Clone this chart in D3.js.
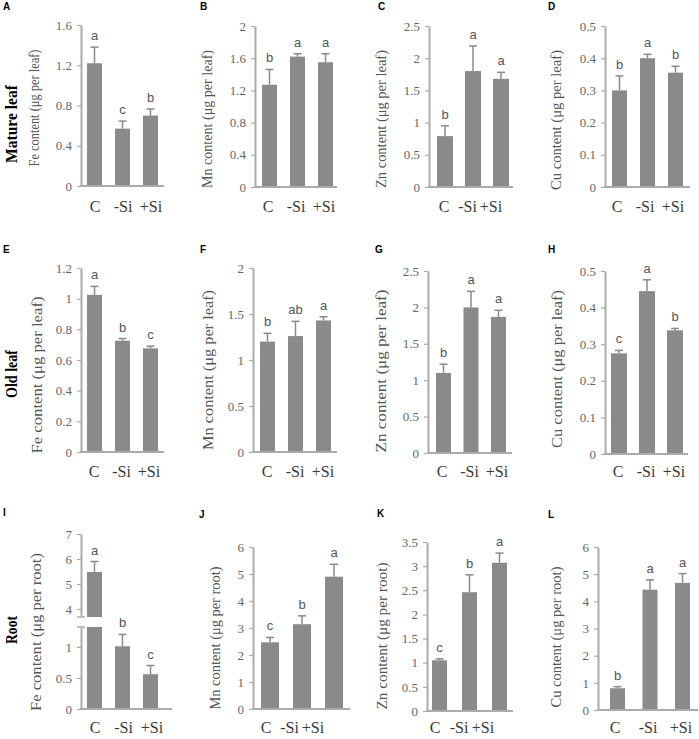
<!DOCTYPE html>
<html><head><meta charset="utf-8">
<script src="https://cdn.jsdelivr.net/npm/d3@7"></script>
<style>body{margin:0;background:#fff} svg{display:block}</style>
</head><body><svg id="chart" width="699" height="739"></svg>
<script>
// ---------- DATA ----------
const categories = ["C", "-Si", "+Si"];
const panelIds = ["A","B","C","D","E","F","G","H","I","J","K","L"];
const rowLabels = ["Mature leaf", "Old leaf", "Root"];
const yTitles = [
  "Fe content (μg per leaf)", "Mn content (μg per leaf)", "Zn content (μg per leaf)", "Cu content (μg per leaf)",
  "Fe content (μg per leaf)", "Mn content (μg per leaf)", "Zn  content (μg per leaf)", "Cu content (μg per leaf)",
  "Fe content (μg per root)", "Mn content (μg per root)", "Zn content (μg per root)", "Cu content (μg per root)"
];
// means, error (upper SD), significance letters
const meanA = [1.22, 0.57, 0.70], errA = [0.16, 0.075, 0.065], sigA = ["a","c","b"];
const meanB = [1.27, 1.62, 1.55], errB = [0.19, 0.035, 0.105], sigB = ["b","a","a"];
const meanC = [0.79, 1.80, 1.68], errC = [0.16, 0.39, 0.10], sigC = ["b","a","a"];
const meanD = [0.30, 0.40, 0.355], errD = [0.045, 0.012, 0.02], sigD = ["b","a","b"];
const meanE = [1.025, 0.726, 0.676], errE = [0.055, 0.014, 0.014], sigE = ["a","b","c"];
const meanF = [1.20, 1.26, 1.43], errF = [0.09, 0.16, 0.04], sigF = ["b","ab","a"];
const meanG = [1.10, 2.00, 1.87], errG = [0.12, 0.22, 0.09], sigG = ["b","a","a"];
const meanH = [0.275, 0.445, 0.338], errH = [0.008, 0.031, 0.005], sigH = ["c","a","b"];
const meanI = [5.48, 1.01, 0.56], errI = [0.42, 0.19, 0.14], sigI = ["a","b","c"];
const meanJ = [2.47, 3.14, 4.90], errJ = [0.18, 0.31, 0.46], sigJ = ["c","b","a"];
const meanK = [1.05, 2.46, 3.07], errK = [0.03, 0.36, 0.20], sigK = ["c","b","a"];
const meanL = [0.80, 4.43, 4.68], errL = [0.06, 0.36, 0.34], sigL = ["b","a","a"];
// y-axis tick labels
const ticksA = [0, 0.4, 0.8, 1.2, 1.6];
const ticksB = [0, 0.4, 0.8, 1.2, 1.6, 2];
const ticksC = [0, 0.5, 1, 1.5, 2, 2.5];
const ticksD = [0, 0.1, 0.2, 0.3, 0.4, 0.5];
const ticksE = [0, 0.2, 0.4, 0.6, 0.8, 1, 1.2];
const ticksF = [0, 0.5, 1, 1.5, 2];
const ticksG = [0, 0.5, 1, 1.5, 2, 2.5];
const ticksH = [0, 0.1, 0.2, 0.3, 0.4, 0.5];
const ticksILow = [0, 0.5, 1];
const ticksIHigh = [4, 5, 6, 7];
const breakI = [1.32, 3.68];
const ticksJ = [0, 1, 2, 3, 4, 5, 6];
const ticksK = [0, 0.5, 1, 1.5, 2, 2.5, 3, 3.5];
const ticksL = [0, 1, 2, 3, 4, 5, 6];

const means = {A:meanA,B:meanB,C:meanC,D:meanD,E:meanE,F:meanF,G:meanG,H:meanH,I:meanI,J:meanJ,K:meanK,L:meanL};
const errs  = {A:errA,B:errB,C:errC,D:errD,E:errE,F:errF,G:errG,H:errH,I:errI,J:errJ,K:errK,L:errL};
const sigs  = {A:sigA,B:sigB,C:sigC,D:sigD,E:sigE,F:sigF,G:sigG,H:sigH,I:sigI,J:sigJ,K:sigK,L:sigL};
const ticks = {A:ticksA,B:ticksB,C:ticksC,D:ticksD,E:ticksE,F:ticksF,G:ticksG,H:ticksH,J:ticksJ,K:ticksK,L:ticksL};

// ---------- LAYOUT ----------
const layout = {
 A:{ax:81,bl:87,br:158,bw:15,ae:164,yt:25,yb:186, tx:34,ty:108,tl:117, lx:3,ly:10, cy:212, lc:[95,151]},
 B:{ax:255,bl:262,br:333,bw:15,ae:337,yt:26,yb:187, tx:207,ty:119,tl:138, lx:200,ly:10, cy:212, lc:[268,324]},
 C:{ax:429,bl:437,br:509,bw:16,ae:513,yt:26,yb:187, tx:381,ty:119,tl:138, lx:378,ly:10, cy:212, lc:[444,491]},
 D:{ax:605,bl:612,br:683,bw:15,ae:690,yt:26,yb:187, tx:556,ty:120,tl:140, lx:548,ly:10, cy:212, lc:[617,673]},
 E:{ax:81,bl:87,br:158,bw:15,ae:164,yt:268,yb:452, tx:37,ty:375,tl:157, lx:3,ly:253, cy:477, lc:[94,149]},
 F:{ax:253,bl:260,br:331,bw:15,ae:337,yt:268,yb:452, tx:208,ty:370,tl:160, lx:200,ly:253, cy:477, lc:[267,323]},
 G:{ax:428,bl:436,br:506,bw:15,ae:512,yt:271,yb:453, tx:381,ty:371,tl:163, lx:375,ly:253, cy:477, lc:[442,497]},
 H:{ax:605,bl:611,br:683,bw:16,ae:688,yt:271,yb:454, tx:557,ty:369,tl:158, lx:548,ly:253, cy:477, lc:[618,674]},
 I:{ax:81,bl:87,br:158,bw:15,ae:172,yt:534,yb:709, tx:36,ty:632,tl:158, lx:3,ly:516, cy:733, lc:[95,152], gapTop:617, gapBot:627},
 J:{ax:253,bl:261,br:343,bw:18,ae:350,yt:547,yb:709, tx:215,ty:638,tl:143, lx:199,ly:518, cy:733, lc:[266,313]},
 K:{ax:427,bl:432,br:507,bw:15,ae:513,yt:542,yb:711, tx:382,ty:636,tl:147, lx:377,ly:517, cy:733, lc:[435,483]},
 L:{ax:598,bl:610,br:690,bw:15,ae:698,yt:547,yb:710, tx:556,ty:637,tl:141, lx:548,ly:518, cy:733, lc:[615,681]}
};
const rowLabelPos = [{x:11,y:124,len:78},{x:11,y:374,len:48},{x:11,y:630,len:28}];

const SERIF = "'Liberation Serif','Times New Roman',serif";
const SANS = "'Liberation Sans',Arial,sans-serif";
const BAR = "#8a8a8a", AXIS = "#ababab", TICKTXT = "#666", TITLE = "#555", CAT = "#3a3a3a", SIG = "#555";

const svg = d3.select("#chart");

function styleAxis(sel) {
  sel.attr("font-family", null).attr("font-size", null);
  sel.select(".domain").attr("stroke", AXIS).attr("stroke-width", 2);
  sel.selectAll(".tick line").attr("stroke", AXIS).attr("stroke-width", 1.2);
  sel.selectAll(".tick text").attr("fill", TICKTXT).style("font-family", SERIF).style("font-size", "13px");
}

function drawPanel(id, idx) {
  const L = layout[id];
  const g = svg.append("g");
  const step = (L.br - L.bl - L.bw) / 2;
  const x = d3.scaleBand().domain(categories).range([L.bl, L.br]).paddingInner(1 - L.bw / step).paddingOuter(0);
  const xl = d3.scalePoint().domain(categories).range(L.lc);
  const mean = means[id], err = errs[id], sig = sigs[id];
  const rows = categories.map((c, i) => ({c, m: mean[i], e: err[i], s: sig[i]}));

  let y;
  if (id === "I") {
    const yLow = d3.scaleLinear().domain([0, breakI[0]]).range([L.yb, L.gapBot]);
    const yHigh = d3.scaleLinear().domain([breakI[1], d3.max(ticksIHigh)]).range([L.gapTop, L.yt]);
    y = v => v <= breakI[0] ? yLow(v) : (v >= breakI[1] ? yHigh(v) : (L.gapTop + L.gapBot) / 2);
    g.selectAll("rect.bar").data(rows).join("rect").attr("class","bar")
      .attr("x", d => x(d.c)).attr("width", x.bandwidth())
      .attr("y", d => y(d.m)).attr("height", d => L.yb - y(d.m)).attr("fill", BAR);
    const a1 = g.append("g").attr("transform", `translate(${L.ax},0)`)
      .call(d3.axisLeft(yLow).tickValues(ticksILow).tickSize(4).tickSizeOuter(0).tickPadding(5).tickFormat(d => String(d)));
    const a2 = g.append("g").attr("transform", `translate(${L.ax},0)`)
      .call(d3.axisLeft(yHigh).tickValues(ticksIHigh).tickSize(4).tickSizeOuter(0).tickPadding(5).tickFormat(d => String(d)));
    styleAxis(a1); styleAxis(a2);
    g.append("rect").attr("x", L.ax - 6).attr("y", L.gapTop).attr("width", x(categories[0]) + x.bandwidth() - L.ax + 7)
      .attr("height", L.gapBot - L.gapTop).attr("fill", "#fff");
    [L.gapTop, L.gapBot].forEach(yy => g.append("line").attr("x1", L.ax - 4).attr("x2", L.ax + 4)
      .attr("y1", yy).attr("y2", yy).attr("stroke", AXIS).attr("stroke-width", 1.5));
  } else {
    const tk = ticks[id];
    y = d3.scaleLinear().domain([0, d3.max(tk)]).range([L.yb, L.yt]);
    g.selectAll("rect.bar").data(rows).join("rect").attr("class","bar")
      .attr("x", d => x(d.c)).attr("width", x.bandwidth())
      .attr("y", d => y(d.m)).attr("height", d => L.yb - y(d.m)).attr("fill", BAR);
    const a = g.append("g").attr("transform", `translate(${L.ax},0)`)
      .call(d3.axisLeft(y).tickValues(tk).tickSize(4).tickSizeOuter(0).tickPadding(5).tickFormat(d => String(d)));
    styleAxis(a);
  }
  g.append("line").attr("x1", L.ax - 1).attr("x2", L.ae).attr("y1", L.yb).attr("y2", L.yb)
    .attr("stroke", AXIS).attr("stroke-width", 2);

  const eb = g.selectAll("g.err").data(rows).join("g").attr("class","err");
  eb.append("line").attr("x1", d => x(d.c) + x.bandwidth()/2).attr("x2", d => x(d.c) + x.bandwidth()/2)
    .attr("y1", d => y(d.m)).attr("y2", d => y(d.m + d.e)).attr("stroke", BAR).attr("stroke-width", 1.5);
  eb.append("line").attr("x1", d => x(d.c) + x.bandwidth()/2 - 4).attr("x2", d => x(d.c) + x.bandwidth()/2 + 4)
    .attr("y1", d => y(d.m + d.e)).attr("y2", d => y(d.m + d.e)).attr("stroke", BAR).attr("stroke-width", 1.5);
  g.selectAll("text.sig").data(rows).join("text").attr("class","sig")
    .attr("x", d => x(d.c) + x.bandwidth()/2).attr("y", d => y(d.m + d.e) - 7)
    .attr("text-anchor","middle").attr("fill", SIG).style("font-family", SANS).style("font-size","13px")
    .text(d => d.s);
  g.selectAll("text.cat").data(categories).join("text").attr("class","cat")
    .attr("x", d => xl(d)).attr("y", L.cy).attr("text-anchor","middle")
    .attr("fill", CAT).style("font-family", SERIF).style("font-size","16px").text(d => d);
  g.append("text").attr("transform", `translate(${L.tx},${L.ty}) rotate(-90)`)
    .attr("text-anchor","middle").attr("dominant-baseline","central")
    .attr("textLength", L.tl).attr("lengthAdjust","spacingAndGlyphs")
    .attr("fill", TITLE).style("font-family", SERIF).style("font-size","14px").text(yTitles[idx]);
  g.append("text").attr("x", L.lx).attr("y", L.ly).attr("fill","#000")
    .style("font-family", SANS).style("font-weight","bold").style("font-size","10px").text(id);
}

panelIds.forEach((id, i) => drawPanel(id, i));

rowLabels.forEach((t, i) => {
  const p = rowLabelPos[i];
  svg.append("text").attr("transform", `translate(${p.x},${p.y}) rotate(-90)`)
    .attr("text-anchor","middle").attr("dominant-baseline","central")
    .attr("textLength", p.len).attr("lengthAdjust","spacingAndGlyphs")
    .attr("fill","#000").style("font-family", SERIF).style("font-weight","bold").style("font-size","16px").text(t);
});
</script></body></html>
